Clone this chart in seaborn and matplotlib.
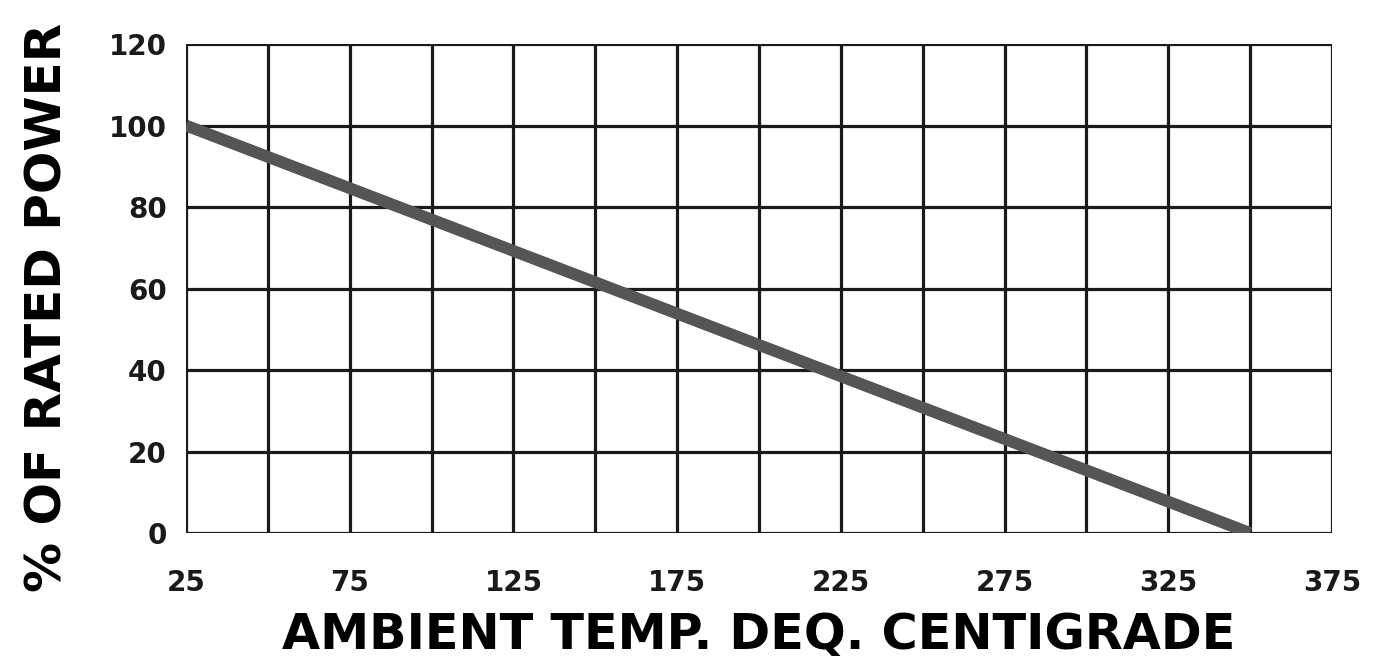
import numpy as np
import pandas as pd
import matplotlib
matplotlib.use('Agg')
import matplotlib.pyplot as plt
import seaborn as sns

# datos de la curva de derating
temp = [25, 350]
potencia = [100, 0]
x_ticks = [25, 75, 125, 175, 225, 275, 325, 375]
y_ticks = [0, 20, 40, 60, 80, 100, 120]

df = pd.DataFrame({'temp': temp, 'potencia': potencia})

sns.set_style('white')
plt.rcParams['font.family'] = ['DejaVu Sans']

fig = plt.figure(figsize=(13.8, 6.65), dpi=100)
ax = fig.add_axes([0.1348, 0.1985, 0.8304, 0.7353])

# rejilla cada 25 grados y cada 20 %
for xv in np.arange(25, 376, 25):
    ax.axvline(xv, color='#1a1a1a', lw=2.3, zorder=1)
for yv in y_ticks:
    ax.axhline(yv, color='#1a1a1a', lw=2.3, zorder=1)

sns.lineplot(data=df, x='temp', y='potencia', color='#555555', lw=8.5,
             solid_capstyle='butt', ax=ax, zorder=3)

ax.set_xlim(25, 375)
ax.set_ylim(0, 120)
ax.set_xticks(x_ticks)
ax.set_yticks(y_ticks)
ax.tick_params(length=0, labelsize=20, colors='#1a1a1a')
ax.tick_params(axis='x', pad=26)
ax.tick_params(axis='y', pad=14)
for lab in ax.get_xticklabels() + ax.get_yticklabels():
    lab.set_fontweight('bold')
for s in ax.spines.values():
    s.set_visible(False)

ax.set_xlabel('AMBIENT TEMP. DEQ. CENTIGRADE', fontsize=35.5, fontweight='bold',
              color='black', labelpad=10)
ax.set_ylabel('% OF RATED POWER', fontsize=36, fontweight='bold', color='black')
ax.yaxis.set_label_coords(-0.1, 0.462)

fig.savefig('out.png', dpi=100)
